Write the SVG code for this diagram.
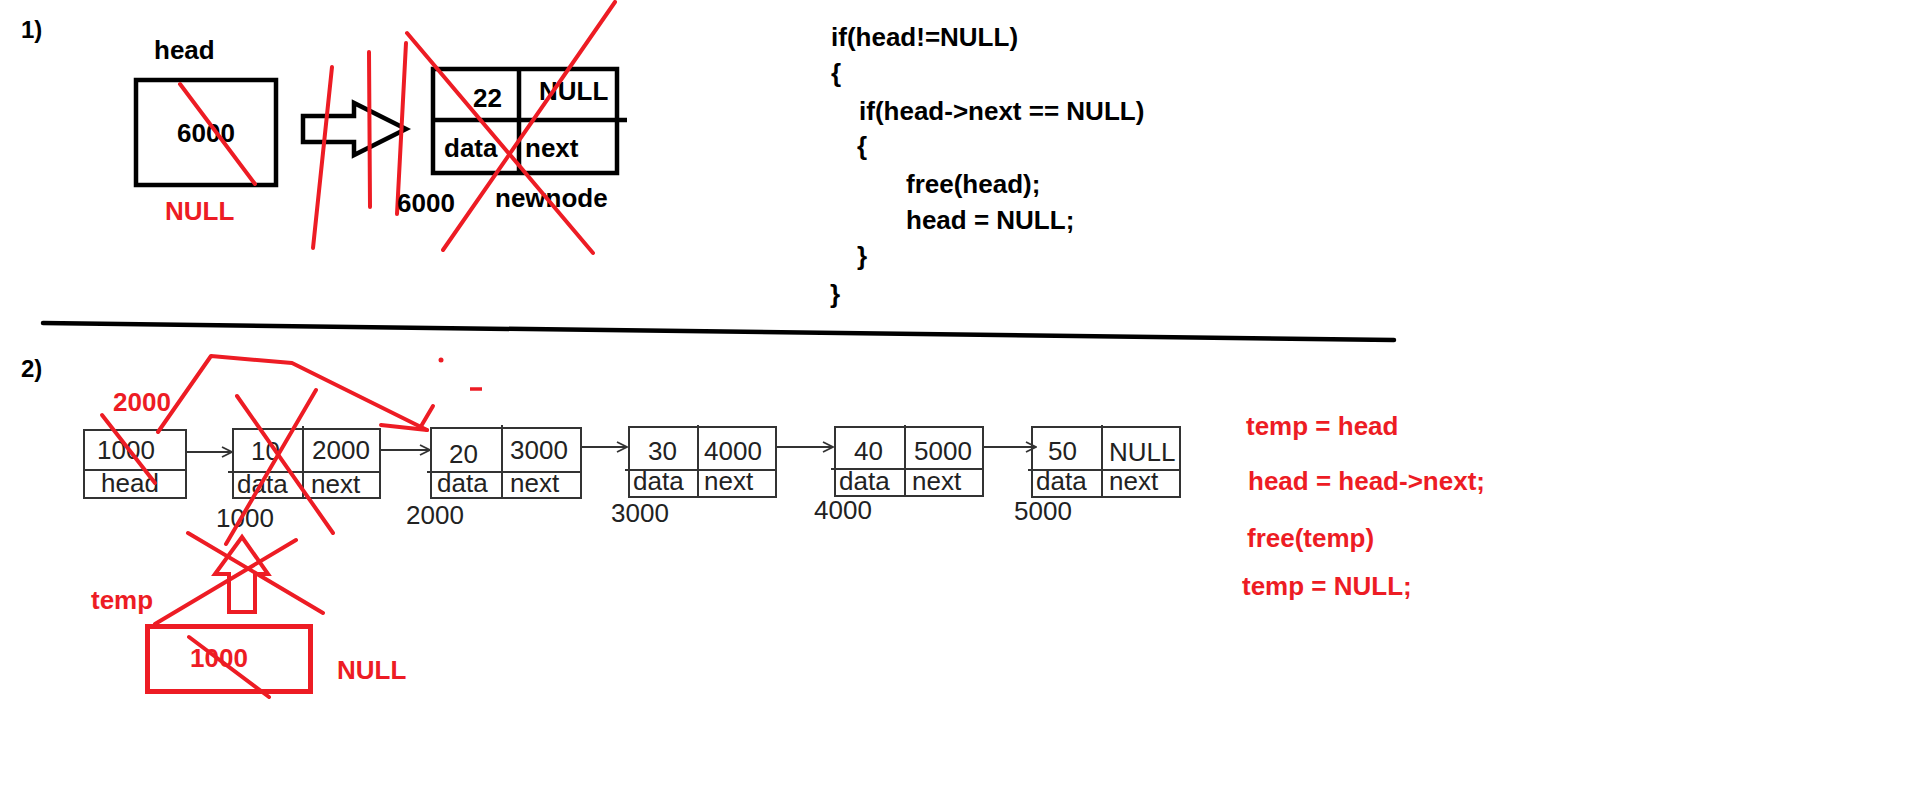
<svg xmlns="http://www.w3.org/2000/svg" width="1914" height="809" viewBox="0 0 1914 809">
<defs>
<style>
.b{font-family:"Liberation Sans",Arial,sans-serif;font-weight:bold;font-size:26px;fill:#000}
.r{font-family:"Liberation Sans",Arial,sans-serif;font-weight:bold;font-size:26px;fill:#ed1c24}
.t{font-family:"Liberation Sans",Arial,sans-serif;font-size:26px;fill:#222}
.bk{fill:none;stroke:#000;stroke-width:4.5}
.ln{fill:none;stroke:#333;stroke-width:2}
.rd{fill:none;stroke:#ed1c24;stroke-width:4;stroke-linecap:round;stroke-linejoin:round}
.cn{fill:none;stroke:#333;stroke-width:2}
</style>
<marker id="ah" viewBox="0 0 12 12" refX="11" refY="6" markerWidth="12" markerHeight="12" markerUnits="userSpaceOnUse" orient="auto">
<path d="M1,1 L11,6 L1,11" fill="none" stroke="#333" stroke-width="1.8"/>
</marker>
</defs>
<rect width="1914" height="809" fill="#fff"/>

<!-- Section 1 -->
<text class="b" x="21" y="38" style="font-size:24px">1)</text>
<g id="head1">
<text class="b" x="154" y="59">head</text>
<rect class="bk" x="136" y="80" width="140" height="105"/>
<text class="b" x="177" y="142">6000</text>
<line class="rd" x1="180" y1="84" x2="255" y2="184"/>
<text class="r" x="165" y="220">NULL</text>
</g>
<g id="connectors1">
<polygon class="bk" points="303,116 354,116 354,103 406,129 354,155 354,142 303,142" fill="#fff"/>
<line class="rd" x1="332" y1="67" x2="313" y2="248"/>
<line class="rd" x1="369" y1="52" x2="370" y2="207"/>
<line class="rd" x1="406" y1="43" x2="397" y2="214"/>
</g>
<g id="newnode">
<rect class="bk" x="433" y="69" width="184" height="104"/>
<line class="bk" x1="519" y1="69" x2="519" y2="173"/>
<line class="bk" x1="433" y1="120" x2="627" y2="120"/>
<text class="b" x="473" y="107">22</text>
<text class="b" x="539" y="100">NULL</text>
<text class="b" x="444" y="157">data</text>
<text class="b" x="525" y="157">next</text>
<text class="b" x="397" y="212">6000</text>
<text class="b" x="495" y="207">newnode</text>
<line class="rd" x1="407" y1="33" x2="593" y2="253"/>
<line class="rd" x1="615" y1="2" x2="443" y2="250"/>
</g>
<g id="code1">
<text class="b" x="831" y="46">if(head!=NULL)</text>
<text class="b" x="831" y="82">{</text>
<text class="b" x="859" y="120">if(head-&gt;next == NULL)</text>
<text class="b" x="857" y="155">{</text>
<text class="b" x="906" y="193">free(head);</text>
<text class="b" x="906" y="229">head = NULL;</text>
<text class="b" x="857" y="265">}</text>
<text class="b" x="830" y="303">}</text>
</g>

<line x1="43" y1="323" x2="1394" y2="340" stroke="#000" stroke-width="4.5" stroke-linecap="round"/>

<!-- Section 2 -->
<text class="b" x="21" y="377" style="font-size:24px">2)</text>

<g id="connectors">
<line class="cn" x1="186" y1="452" x2="232" y2="452" marker-end="url(#ah)"/>
<line class="cn" x1="381" y1="450" x2="430" y2="450" marker-end="url(#ah)"/>
<line class="cn" x1="581" y1="447" x2="627" y2="447" marker-end="url(#ah)"/>
<line class="cn" x1="777" y1="447" x2="833" y2="447" marker-end="url(#ah)"/>
<line class="cn" x1="984" y1="447" x2="1036" y2="447" marker-end="url(#ah)"/>
</g>

<g id="headnode">
<rect class="ln" x="84" y="430" width="102" height="68"/>
<line class="ln" x1="84" y1="470" x2="186" y2="470"/>
<text class="t" x="97" y="459">1000</text>
<text class="t" x="101" y="492">head</text>
</g>
<g id="node1000">
<rect class="ln" x="233" y="429" width="147" height="69"/>
<line class="ln" x1="303" y1="426" x2="303" y2="498"/>
<line class="ln" x1="228" y1="472" x2="380" y2="472"/>
<text class="t" x="251" y="460">10</text>
<text class="t" x="312" y="459">2000</text>
<text class="t" x="237" y="493">data</text>
<text class="t" x="311" y="493">next</text>
<text class="t" x="216" y="527">1000</text>
</g>
<g id="node2000">
<rect class="ln" x="431" y="428" width="150" height="70"/>
<line class="ln" x1="502" y1="425" x2="502" y2="498"/>
<line class="ln" x1="427" y1="472" x2="581" y2="472"/>
<text class="t" x="449" y="463">20</text>
<text class="t" x="510" y="459">3000</text>
<text class="t" x="437" y="492">data</text>
<text class="t" x="510" y="492">next</text>
<text class="t" x="406" y="524">2000</text>
</g>
<g id="node3000">
<rect class="ln" x="629" y="427" width="147" height="70"/>
<line class="ln" x1="698" y1="425" x2="698" y2="497"/>
<line class="ln" x1="625" y1="470" x2="776" y2="470"/>
<text class="t" x="648" y="460">30</text>
<text class="t" x="704" y="460">4000</text>
<text class="t" x="633" y="490">data</text>
<text class="t" x="704" y="490">next</text>
<text class="t" x="611" y="522">3000</text>
</g>
<g id="node4000">
<rect class="ln" x="835" y="427" width="148" height="69"/>
<line class="ln" x1="905" y1="425" x2="905" y2="496"/>
<line class="ln" x1="831" y1="469" x2="983" y2="469"/>
<text class="t" x="854" y="460">40</text>
<text class="t" x="914" y="460">5000</text>
<text class="t" x="839" y="490">data</text>
<text class="t" x="912" y="490">next</text>
<text class="t" x="814" y="519">4000</text>
</g>
<g id="node5000">
<rect class="ln" x="1032" y="427" width="148" height="70"/>
<line class="ln" x1="1102" y1="425" x2="1102" y2="497"/>
<line class="ln" x1="1028" y1="470" x2="1180" y2="470"/>
<text class="t" x="1048" y="460">50</text>
<text class="t" x="1109" y="461">NULL</text>
<text class="t" x="1036" y="490">data</text>
<text class="t" x="1109" y="490">next</text>
<text class="t" x="1014" y="520">5000</text>
</g>

<g id="annotations2">
<text class="r" x="113" y="411">2000</text>
<line class="rd" x1="102" y1="415" x2="155" y2="483"/>
<polyline class="rd" points="158,432 211,356 292,363 427,430"/>
<line class="rd" x1="433" y1="406" x2="420" y2="428"/>
<line class="rd" x1="381" y1="425" x2="427" y2="430"/>
<circle cx="441" cy="360" r="2.5" fill="#ed1c24"/>
<line x1="470" y1="389" x2="482" y2="389" stroke="#ed1c24" stroke-width="3.5"/>
<line class="rd" x1="237" y1="396" x2="333" y2="533"/>
<line class="rd" x1="316" y1="390" x2="226" y2="544"/>
<line class="rd" x1="188" y1="533" x2="323" y2="613"/>
<line class="rd" x1="296" y1="540" x2="155" y2="624"/>
<polygon class="rd" points="229,612 255,612 255,574 268,574 242,537 215,574 229,574" style="stroke-linejoin:miter"/>
</g>
<g id="temp">
<text class="r" x="91" y="609">temp</text>
<rect x="147.5" y="626.5" width="163" height="65" fill="none" stroke="#ed1c24" stroke-width="5"/>
<text class="r" x="190" y="667">1000</text>
<line class="rd" x1="189" y1="637" x2="269" y2="697"/>
<text class="r" x="337" y="679">NULL</text>
</g>
<g id="code2">
<text class="r" x="1246" y="435">temp = head</text>
<text class="r" x="1248" y="490">head = head-&gt;next;</text>
<text class="r" x="1247" y="547">free(temp)</text>
<text class="r" x="1242" y="595">temp = NULL;</text>
</g>
</svg>
